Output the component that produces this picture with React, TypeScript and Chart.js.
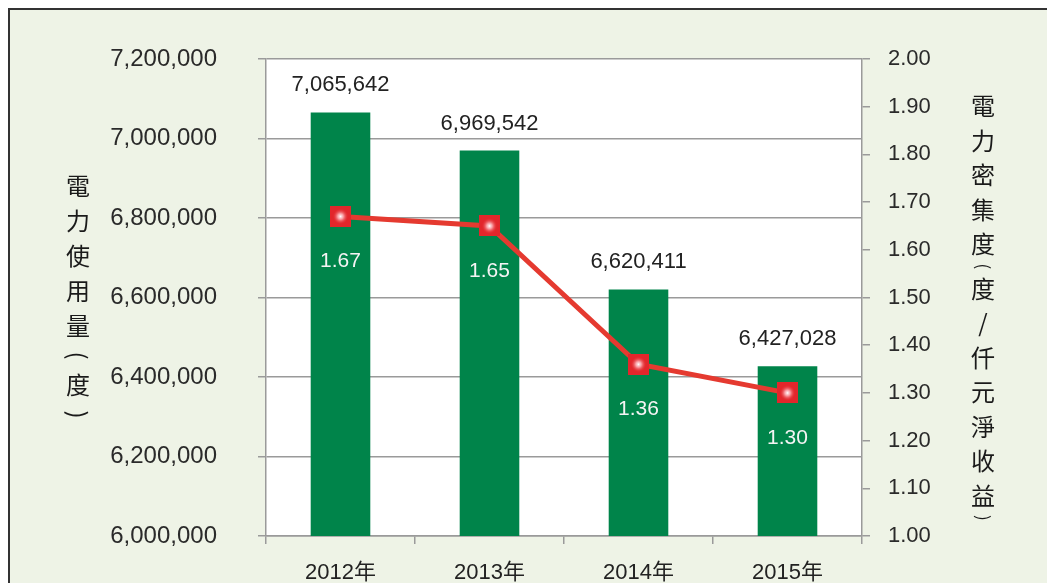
import React, { useEffect, useRef } from "react";
import { Chart, registerables } from "chart.js";

Chart.register(...registerables);

const categories = ["2012年", "2013年", "2014年", "2015年"];
const usage = [7065642, 6969542, 6620411, 6427028];
const intensity = [1.67, 1.65, 1.36, 1.3];
const leftTitle = "電力使用量(度)";
const rightTitle = "電力密集度(度/仟元淨收益)";

const LATIN = "'Liberation Sans', 'Noto Sans CJK TC', sans-serif";
const CJK = "'Noto Sans CJK TC', sans-serif";

function drawStack(
  ctx: CanvasRenderingContext2D,
  text: string,
  cx: number,
  startY: number,
  step: number,
  parenH: number,
  font: string,
  parenFont: string
) {
  ctx.save();
  ctx.fillStyle = "#1a1a1a";
  ctx.textAlign = "center";
  ctx.textBaseline = "middle";
  let y = startY;
  let prevH = step;
  const chars = Array.from(text);
  chars.forEach((ch, i) => {
    const isParen = ch === "(" || ch === ")";
    const h = isParen ? parenH : step;
    if (i > 0) y += (prevH + h) / 2;
    if (isParen) {
      ctx.save();
      ctx.translate(cx, y);
      ctx.rotate(Math.PI / 2);
      ctx.font = parenFont;
      ctx.fillText(ch, 0, 0);
      ctx.restore();
    } else {
      ctx.font = font;
      ctx.fillText(ch, cx, y);
    }
    prevH = h;
  });
  ctx.restore();
}

export default function App() {
  const ref = useRef<HTMLCanvasElement>(null);

  useEffect(() => {
    if (!ref.current) return;

    const marker = document.createElement("canvas");
    marker.width = 21;
    marker.height = 21;
    const m = marker.getContext("2d")!;
    m.fillStyle = "#e2262b";
    m.fillRect(0, 0, 21, 21);
    const g = m.createRadialGradient(10.5, 10.5, 0, 10.5, 10.5, 8);
    g.addColorStop(0, "rgba(255,255,255,1)");
    g.addColorStop(0.35, "rgba(255,190,195,0.8)");
    g.addColorStop(1, "rgba(226,38,43,0)");
    m.fillStyle = g;
    m.fillRect(0, 0, 21, 21);

    const decor = {
      id: "decor",
      beforeDraw(chart: any) {
        const { ctx, chartArea: a } = chart;
        ctx.save();
        ctx.fillStyle = "#ffffff";
        ctx.fillRect(a.left, a.top, a.right - a.left, a.bottom - a.top);
        ctx.restore();
      },
      afterDatasetsDraw(chart: any) {
        const ctx = chart.ctx as CanvasRenderingContext2D;
        ctx.save();
        ctx.textAlign = "center";
        ctx.textBaseline = "middle";
        const barMeta = chart.getDatasetMeta(0);
        ctx.font = "22px " + LATIN;
        ctx.fillStyle = "#222222";
        barMeta.data.forEach((el: any, i: number) => {
          ctx.fillText(usage[i].toLocaleString("en-US"), el.x, el.y - 27);
        });
        const lineMeta = chart.getDatasetMeta(1);
        ctx.font = "21px " + LATIN;
        ctx.fillStyle = "#f4f4f4";
        lineMeta.data.forEach((el: any, i: number) => {
          ctx.fillText(intensity[i].toFixed(2), el.x, el.y + 45);
        });
        ctx.restore();
        drawStack(ctx, leftTitle, 68, 176, 35, 24, "24px " + CJK, "24px " + CJK);
        drawStack(ctx, rightTitle, 973, 96, 34.5, 10, "24px " + CJK, "17px " + CJK);
      },
    };

    const gridColor = "#9a9a9a";

    const chart = new Chart(ref.current, {
      type: "bar",
      data: {
        labels: categories,
        datasets: [
          {
            type: "bar",
            data: usage,
            yAxisID: "y",
            backgroundColor: "#00844a",
            barPercentage: 0.4,
            categoryPercentage: 1.0,
            order: 1,
          },
          {
            type: "line",
            data: intensity,
            yAxisID: "y1",
            borderColor: "#e53a30",
            borderWidth: 5,
            pointStyle: marker as any,
            pointRadius: 10,
            tension: 0,
            order: 0,
          } as any,
        ],
      },
      options: {
        responsive: false,
        animation: false,
        layout: { padding: { top: 49, left: 0, right: 0, bottom: 0 } },
        plugins: { legend: { display: false }, tooltip: { enabled: false } },
        scales: {
          x: {
            offset: true,
            grid: {
              display: true,
              drawOnChartArea: false,
              offset: true,
              tickLength: 8,
              color: gridColor,
              lineWidth: 1.5,
            },
            border: { color: gridColor, width: 1.5 },
            ticks: { font: { size: 22, family: LATIN }, color: "#222222", padding: 16 },
            afterFit: (s: any) => {
              s.height = 47;
            },
          },
          y: {
            position: "left",
            min: 6000000,
            max: 7200000,
            ticks: {
              stepSize: 200000,
              callback: (v: any) => Number(v).toLocaleString("en-US"),
              padding: 41,
              font: { size: 24, family: LATIN },
              color: "#2a2a2a",
            },
            grid: { color: gridColor, lineWidth: 1.5, tickLength: 8 },
            border: { color: gridColor, width: 1.5 },
            afterFit: (s: any) => {
              s.width = 256;
              s.paddingTop = 0;
              s.paddingBottom = 0;
            },
          },
          y1: {
            position: "right",
            min: 1,
            max: 2,
            ticks: {
              stepSize: 0.1,
              callback: (v: any) => Number(v).toFixed(2),
              padding: 18,
              font: { size: 22, family: LATIN },
              color: "#2a2a2a",
            },
            grid: { drawOnChartArea: false, color: gridColor, lineWidth: 1.5, tickLength: 8 },
            border: { color: gridColor, width: 1.5 },
            afterFit: (s: any) => {
              s.width = 193;
              s.paddingTop = 0;
              s.paddingBottom = 0;
            },
          },
        },
      } as any,
      plugins: [decor],
    });

    return () => chart.destroy();
  }, []);

  return (
    <div
      style={{
        width: 1047,
        height: 575,
        boxSizing: "border-box",
        borderTop: "2px solid #333",
        borderLeft: "2px solid #333",
        background: "#eef3e6",
        position: "relative",
        overflow: "hidden",
      }}
    >
      <canvas ref={ref} width={1045} height={573} style={{ display: "block" }} />
    </div>
  );
}
